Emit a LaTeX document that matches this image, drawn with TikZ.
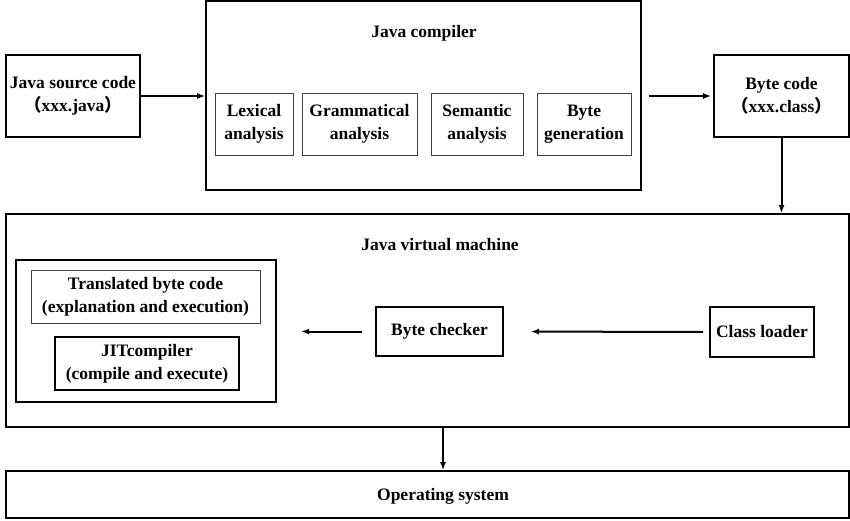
\documentclass[tikz,border=0pt]{standalone}
\usepackage{fontspec}
\setmainfont{Liberation Serif}
\newfontfamily\cjk{Noto Sans CJK SC}
\usepackage{tikz}
\usetikzlibrary{arrows.meta}

\begin{document}
\begin{tikzpicture}[x=1pt, y=-1pt,
    box/.style={draw, line width=1.8pt, inner sep=0pt, align=center},
    thinbox/.style={draw=black!75, line width=1pt, inner sep=0pt, align=center},
    arr/.style={-{Latex[length=8pt,width=6pt]}, line width=2pt},
    font=\fontsize{17.5}{23}\selectfont\bfseries]
    \useasboundingbox (0, 0) rectangle (850, 520);
    % source and byte code
    \node [box, minimum width=134, minimum height=82] (1) at (73, 96) {Java source code\\{\cjk （}xxx.java{\cjk ）}};
    \node [box, minimum width=135, minimum height=82] (2) at (781.5, 96) {Byte code\\{\cjk （}xxx.class{\cjk ）}};
    % java compiler
    \node [box, minimum width=435, minimum height=189] (3) at (423.5, 95.5) {};
    \node  (4) at (424, 33) {Java compiler};
    \node [thinbox, minimum width=78, minimum height=62] (5) at (254, 124) {Lexical\\analysis};
    \node [thinbox, minimum width=115, minimum height=62] (6) at (359.5, 124) {Grammatical\\analysis};
    \node [thinbox, minimum width=92, minimum height=62] (7) at (477, 124) {Semantic\\analysis};
    \node [thinbox, minimum width=94, minimum height=62] (8) at (584, 124) {Byte\\generation};
    % java virtual machine
    \node [box, minimum width=843, minimum height=213] (9) at (427.5, 320.5) {};
    \node  (10) at (440, 245) {Java virtual machine};
    \node [box, line width=2.2pt, minimum width=260, minimum height=142] (11) at (146, 331) {};
    \node [thinbox, minimum width=229, minimum height=53] (12) at (145.5, 296.5) {Translated byte code\\(explanation and execution)};
    \node [box, line width=1.4pt, minimum width=184, minimum height=53] (13) at (147, 363.5) {JITcompiler\\(compile and execute)};
    \node [box, minimum width=127, minimum height=49] (14) at (439.5, 331.5) {Byte checker};
    \node [box, minimum width=104, minimum height=50] (15) at (762, 332) {Class loader};
    % operating system
    \node [box, minimum width=843, minimum height=47] (16) at (427.5, 494.5) {};
    \node  (17) at (443, 496) {Operating system};
    % arrows
    \draw [arr] (1.east) to (1.east -| 3.west);
    \draw [arr, shorten <=7pt, shorten >=2pt] (3.east |- 2.west) to (2.west);
    \draw [arr] (2.south) to (2.south |- 9.north);
    \draw [arr, shorten <=6pt, shorten >=27pt] (15.west) to (14.east);
    \draw [arr, shorten <=13pt, shorten >=24pt] (14.west) to (14.west -| 11.east);
    \draw [arr] (9.south -| 17) to (17 |- 16.north);
\end{tikzpicture}
\end{document}
